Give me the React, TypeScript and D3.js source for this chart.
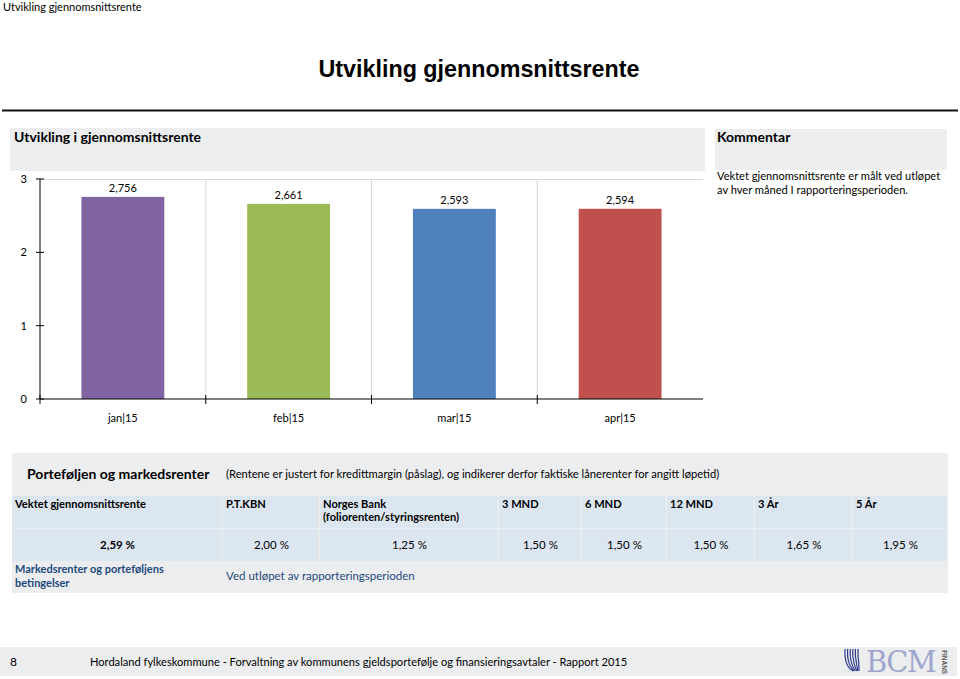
import React from "react";
import * as d3 from "d3";

const months = ["jan|15", "feb|15", "mar|15", "apr|15"];
const values = [2.756, 2.661, 2.593, 2.594];
const valueLabels = ["2,756", "2,661", "2,593", "2,594"];
const barColors = ["#8064A2", "#9BBB59", "#4F81BD", "#C0504D"];
const yTicks = [0, 1, 2, 3];

const headerLabels = ["Vektet gjennomsnittsrente", "P.T.KBN", "Norges Bank", "3 MND", "6 MND", "12 MND", "3 År", "5 År"];
const rateValues = ["2,59 %", "2,00 %", "1,25 %", "1,50 %", "1,50 %", "1,50 %", "1,65 %", "1,95 %"];
const colEdges = [12, 223, 320, 499, 582, 667, 755, 853, 948];

const FONT = "Lato, 'Open Sans', sans-serif";

export default function App() {
  const x = d3.scaleBand<string>().domain(months).range([40, 703]).padding(0);
  const y = d3.scaleLinear().domain([0, 3]).range([399, 179]);
  const bw = x.bandwidth() * 0.5;
  const gray = "#ECEDEF";
  const blue = "#DCE6F1";
  const rowTops = [496, 529, 562];
  const rowH = 32;

  return (
    <svg width={960} height={679} style={{ position: "absolute", left: 0, top: 0, background: "#fff" }} fontFamily={FONT}>
      <rect width={960} height={679} fill="#fff" />
      <text x={3} y={11} fontSize={11} fill="#000">Utvikling gjennomsnittsrente</text>
      <text x={479} y={77} fontSize={23.3} fontWeight="bold" textAnchor="middle" fontFamily="'Liberation Sans', Arial, sans-serif">Utvikling gjennomsnittsrente</text>
      <line x1={2} x2={958} y1={110.5} y2={110.5} stroke="#111" strokeWidth={2} />

      {/* Chart panel header */}
      <rect x={10} y={128} width={695} height={43} fill={gray} />
      <text x={14} y={142} fontSize={14} fontWeight="bold">Utvikling i gjennomsnittsrente</text>

      {/* plot area */}
      <line x1={40} x2={703} y1={179.5} y2={179.5} stroke="#D9D9D9" />
      {months.slice(1).map((m) => (
        <line key={m} x1={x(m)!} x2={x(m)!} y1={179} y2={399} stroke="#D9D9D9" />
      ))}
      {months.map((m, i) => (
        <g key={m}>
          <rect x={x(m)! + (x.bandwidth() - bw) / 2} y={y(values[i])} width={bw} height={y(0) - y(values[i])} fill={barColors[i]} />
          <text x={x(m)! + x.bandwidth() / 2} y={y(values[i]) - 5} fontSize={11} textAnchor="middle">{valueLabels[i]}</text>
          <text x={x(m)! + x.bandwidth() / 2} y={422} fontSize={11} textAnchor="middle">{m}</text>
        </g>
      ))}
      <line x1={40} x2={40} y1={179} y2={399} stroke="#000" />
      <line x1={40} x2={703} y1={399} y2={399} stroke="#000" />
      {yTicks.map((t) => (
        <g key={t}>
          <line x1={36} x2={44} y1={y(t)} y2={y(t)} stroke="#000" />
          <text x={27} y={y(t) + 4} fontSize={11} textAnchor="end">{t}</text>
        </g>
      ))}
      {months.map((m) => (
        <line key={m + "t"} x1={x(m)!} x2={x(m)!} y1={395} y2={404} stroke="#000" />
      ))}

      {/* Kommentar */}
      <rect x={715} y={129} width={232} height={41} fill={gray} />
      <text x={717} y={142} fontSize={14} fontWeight="bold">Kommentar</text>
      <text x={717} y={180} fontSize={11.1}>Vektet gjennomsnittsrente er målt ved utløpet</text>
      <text x={717} y={194} fontSize={11.1}>av hver måned I rapporteringsperioden.</text>

      {/* Table */}
      <rect x={12} y={453} width={936} height={140} fill={gray} />
      <text x={27} y={479} fontSize={14} fontWeight="bold">Porteføljen og markedsrenter</text>
      <text x={226} y={478} fontSize={11.2}>(Rentene er justert for kredittmargin (påslag), og indikerer derfor faktiske lånerenter for angitt løpetid)</text>
      {colEdges.slice(0, -1).map((c, i) => (
        <g key={"c" + i}>
          <rect x={c} y={rowTops[0]} width={colEdges[i + 1] - c - 1.5} height={rowH} fill={blue} />
          <rect x={c} y={rowTops[1]} width={colEdges[i + 1] - c - 1.5} height={rowH} fill={blue} />
          <text x={c + 3} y={rowTops[0] + 12} fontSize={11.1} fontWeight="bold">{headerLabels[i]}</text>
          <text x={(c + colEdges[i + 1]) / 2} y={rowTops[1] + 20} fontSize={11.5} fontWeight={i === 0 ? "bold" : "normal"} textAnchor="middle">{rateValues[i]}</text>
        </g>
      ))}
      <text x={colEdges[2] + 3} y={rowTops[0] + 25} fontSize={11.1} fontWeight="bold">(foliorenten/styringsrenten)</text>
      <text x={15} y={rowTops[2] + 11} fontSize={11} fontWeight="bold" fill="#1F497D">Markedsrenter og porteføljens</text>
      <text x={15} y={rowTops[2] + 25} fontSize={11} fontWeight="bold" fill="#1F497D">betingelser</text>
      <text x={226} y={rowTops[2] + 18} fontSize={11.5} fill="#1F497D">Ved utløpet av rapporteringsperioden</text>

      {/* Footer */}
      <rect x={0} y={647} width={957} height={29} fill={gray} />
      <text x={10} y={666} fontSize={12}>8</text>
      <text x={90} y={666} fontSize={11.1}>Hordaland fylkeskommune - Forvaltning av kommunens gjeldsportefølje og finansieringsavtaler  - Rapport 2015</text>
      <g>
        {[0, 1, 2, 3, 4, 5].map((k) => (
          <path key={k} d={`M${845 + k * 2.6},649 L${845 + k * 2.6},656 Q${846 + k * 2.6},${667 - k} ${853 + k * 1.2},${671}`} stroke="#2E3A8C" strokeWidth={1.2} fill="none" />
        ))}
        <text x={866} y={672} fontSize={29} fontFamily="'DejaVu Serif', 'Liberation Serif', serif" fill="#9FA6CC" letterSpacing={-1.5}>BCM</text>
        <text transform="translate(942,650) rotate(90)" fontSize={6.5} fontWeight="bold" fill="#555" fontFamily="'Liberation Sans', sans-serif">FINANS</text>
      </g>
    </svg>
  );
}
